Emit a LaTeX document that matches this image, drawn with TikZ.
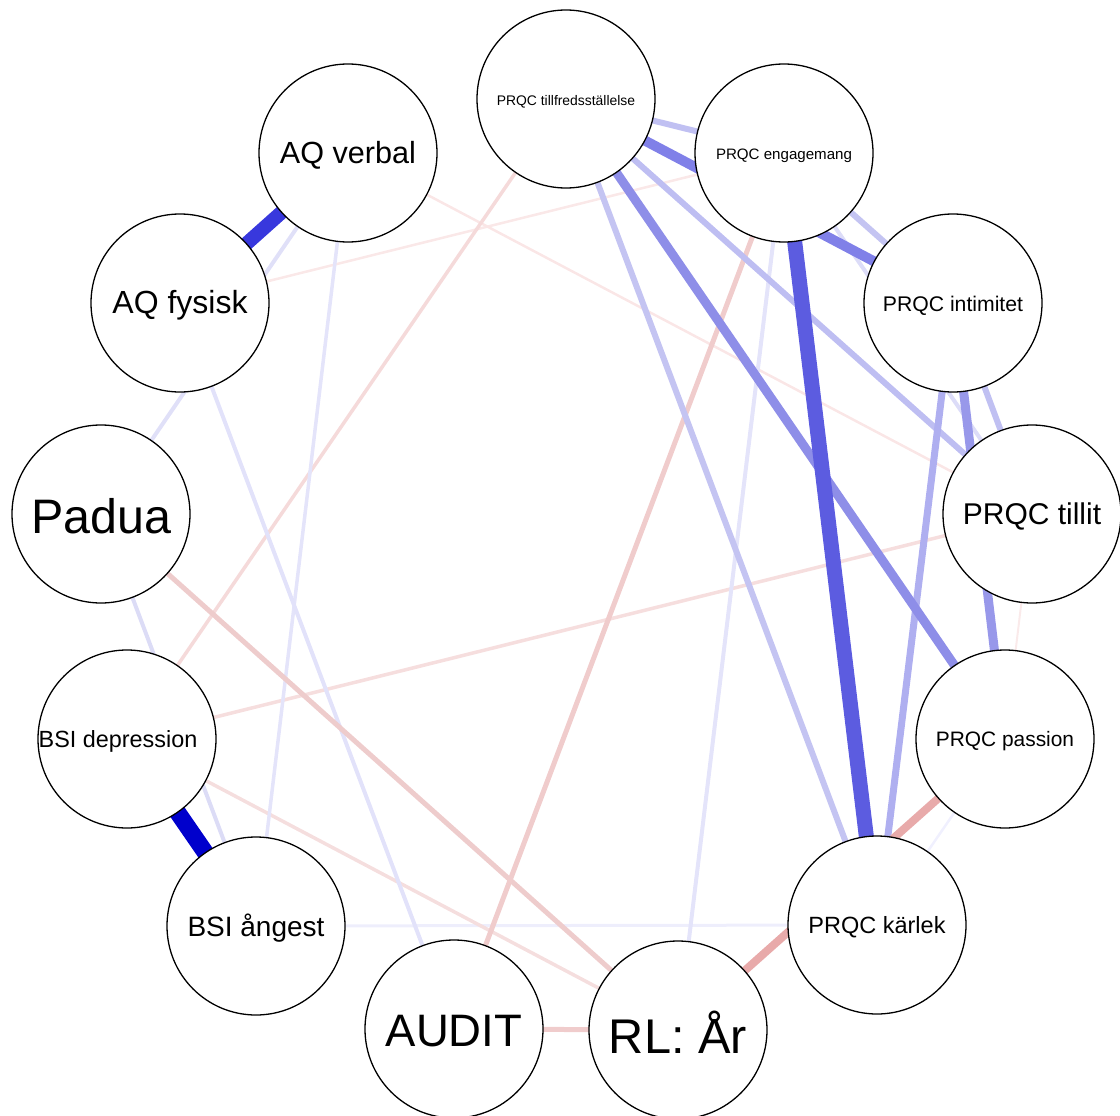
\documentclass[tikz,border=0pt]{standalone}
\usepackage{fontspec}
\setmainfont{Liberation Sans}
\usetikzlibrary{backgrounds}
\definecolor{e01}{HTML}{FAEAEA}
\definecolor{e02}{HTML}{F0F0FE}
\definecolor{e03}{HTML}{FAE8E8}
\definecolor{e04}{HTML}{FAE6E6}
\definecolor{e05}{HTML}{EEEEFC}
\definecolor{e06}{HTML}{F6DEDE}
\definecolor{e07}{HTML}{F5DEDE}
\definecolor{e08}{HTML}{F5DADA}
\definecolor{e09}{HTML}{E4E4FA}
\definecolor{e10}{HTML}{E2E2FA}
\definecolor{e11}{HTML}{E0E0F8}
\definecolor{e12}{HTML}{E4E4FA}
\definecolor{e13}{HTML}{DCDCF6}
\definecolor{e14}{HTML}{DCDCF8}
\definecolor{e15}{HTML}{F0CCCC}
\definecolor{e16}{HTML}{EECCCC}
\definecolor{e17}{HTML}{F0CCCC}
\definecolor{e18}{HTML}{C0C0F2}
\definecolor{e19}{HTML}{C4C4F2}
\definecolor{e20}{HTML}{C0C0F2}
\definecolor{e21}{HTML}{BEBEF2}
\definecolor{e22}{HTML}{C4C4F2}
\definecolor{e23}{HTML}{AFAFF0}
\definecolor{e24}{HTML}{E8AAAA}
\definecolor{e25}{HTML}{9898EA}
\definecolor{e26}{HTML}{8E8EE8}
\definecolor{e27}{HTML}{8080E8}
\definecolor{e28}{HTML}{5C5CE0}
\definecolor{e29}{HTML}{3838DD}
\definecolor{e30}{HTML}{0000CC}
\newcommand{\fs}[1]{\fontsize{#1}{#1}\selectfont}
\newcommand{\lw}[1]{\raisebox{-2.5pt}[\height][\depth]{#1}}
\begin{document}
\begin{tikzpicture}[x=1pt,y=-1pt,
  nd/.style={circle,draw=black,fill=white,line width=1.3pt,minimum size=178pt,inner sep=0pt},
  edg/.style={line cap=butt}]
\useasboundingbox (0,0) rectangle (1120,1116);
% nodes
\node[nd,font=\fs{13.9}] (tf) at (566,99) {\lw{PRQC tillfredsställelse}};
\node[nd,font=\fs{15.1}] (en) at (784,153) {\lw{PRQC engagemang}};
\node[nd,font=\fs{21.2}] (in) at (953,303) {\lw{PRQC intimitet}};
\node[nd,font=\fs{30}] (ti) at (1032,514) {\lw{PRQC tillit}};
\node[nd,font=\fs{20.9}] (pa) at (1005,739) {\lw{PRQC passion}};
\node[nd,font=\fs{23.5}] (ka) at (877,925) {\lw{PRQC kärlek}};
\node[nd,font=\fs{48.7}] (rl) at (678,1030) {\lw{RL: År}};
\node[nd,font=\fs{45.5}] (au) at (454,1029) {\lw{AUDIT}};
\node[nd,font=\fs{28}] (an) at (256,926) {\lw{BSI ångest}};
\node[nd,font=\fs{23.4}] (de) at (127,739) {\hspace*{-18pt}\lw{BSI depression}};
\node[nd,font=\fs{48.4}] (pd) at (101,514) {\lw{Padua}};
\node[nd,font=\fs{32}] (af) at (180,303) {\lw{AQ fysisk}};
\node[nd,font=\fs{30.6}] (av) at (348,153) {\lw{AQ verbal}};
% edges
\begin{scope}[on background layer,edg]
\draw[e01,line width=2pt] (ti.center) -- (pa.center);
\draw[e02,line width=2.5pt] (pa.center) -- (ka.center);
\draw[e03,line width=2.5pt] (af.center) -- (en.center);
\draw[e04,line width=2.5pt] (av.center) -- (ti.center);
\draw[e05,line width=3pt] (an.center) -- (ka.center);
\draw[e06,line width=3.5pt] (de.center) -- (ti.center);
\draw[e07,line width=3.5pt] (de.center) -- (rl.center);
\draw[e08,line width=3.5pt] (tf.center) -- (de.center);
\draw[e09,line width=3.5pt] (av.center) -- (an.center);
\draw[e10,line width=4pt] (af.center) -- (au.center);
\draw[e11,line width=4pt] (av.center) -- (pd.center);
\draw[e12,line width=4pt] (en.center) -- (rl.center);
\draw[e13,line width=4pt] (pd.center) -- (an.center);
\draw[e14,line width=4pt] (en.center) -- (ti.center);
\draw[e15,line width=5pt] (au.center) -- (rl.center);
\draw[e16,line width=5pt] (pd.center) -- (rl.center);
\draw[e17,line width=5pt] (en.center) -- (au.center);
\draw[e18,line width=6pt] (tf.center) -- (en.center);
\draw[e19,line width=6pt] (en.center) -- (in.center);
\draw[e20,line width=6pt] (in.center) -- (ti.center);
\draw[e21,line width=6pt] (tf.center) -- (ti.center);
\draw[e22,line width=6pt] (tf.center) -- (ka.center);
\draw[e23,line width=7pt] (in.center) -- (ka.center);
\draw[e24,line width=8pt] (rl.center) -- (pa.center);
\draw[e25,line width=9pt] (in.center) -- (pa.center);
\draw[e26,line width=9pt] (tf.center) -- (pa.center);
\draw[e27,line width=10pt] (tf.center) -- (in.center);
\draw[e28,line width=15pt] (en.center) -- (ka.center);
\draw[e29,line width=14pt] (av.center) -- (af.center);
\draw[e30,line width=17pt] (de.center) -- (an.center);
\end{scope}
\end{tikzpicture}
\end{document}
